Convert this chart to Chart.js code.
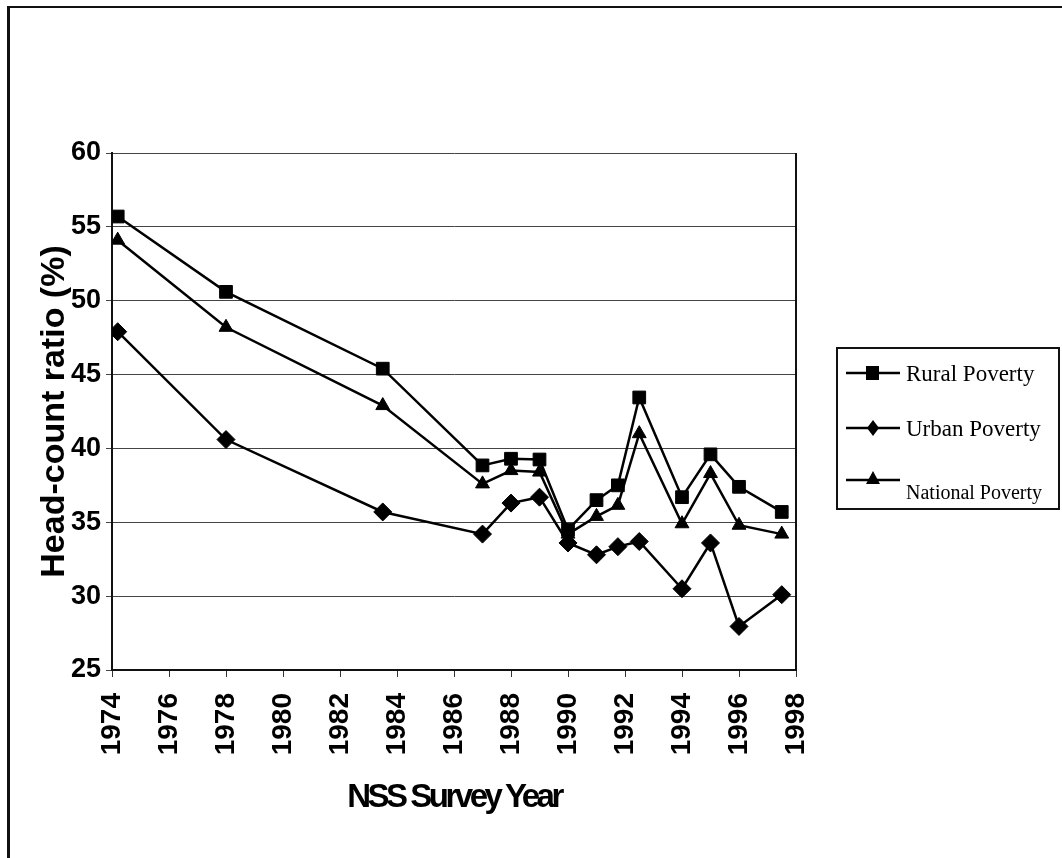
<!DOCTYPE html>
<html>
<head>
<meta charset="utf-8">
<script src="https://cdn.jsdelivr.net/npm/chart.js@4.4.1/dist/chart.umd.min.js"></script>
<style>
    body { margin: 0; background: #fff; }
    #wrap { position: relative; width: 1062px; height: 858px; overflow: hidden; }
    #frame { position: absolute; left: 7px; top: 6px; width: 1100px; height: 900px;
             border-left: 3px solid #111; border-top: 2px solid #111; }
    #legend { position: absolute; left: 836px; top: 347px; width: 220px; height: 159px;
              border: 2px solid #111; font-family: "Liberation Serif", "Times New Roman", serif; }
    #legend svg, #legend span { position: absolute; }
    #legend span { color: #000; white-space: nowrap; line-height: 1; }
</style>
</head>
<body>
<div id="wrap">
    <div id="frame"></div>
    <canvas id="chart" width="1062" height="858"></canvas>
    <div id="legend">
        <svg style="left: 8px; top: 12px;" width="54" height="24"><line x1="0" y1="12" x2="54" y2="12" stroke="#000" stroke-width="2.5"/><rect x="20" y="5" width="13" height="14" fill="#000"/></svg>
        <span style="left: 68px; top: 13px; font-size: 23px;">Rural Poverty</span>
        <svg style="left: 8px; top: 67px;" width="54" height="24"><line x1="0" y1="12" x2="54" y2="12" stroke="#000" stroke-width="2.5"/><polygon points="27,4 33,12 27,20 21,12" fill="#000"/></svg>
        <span style="left: 68px; top: 68px; font-size: 23px;">Urban Poverty</span>
        <svg style="left: 8px; top: 118px;" width="54" height="24"><line x1="0" y1="13" x2="54" y2="13" stroke="#000" stroke-width="2.5"/><polygon points="27,4 34,17 20,17" fill="#000"/></svg>
        <span style="left: 68px; top: 133px; font-size: 20px;">National Poverty</span>
    </div>
</div>
<script>
const years = [1974.2, 1978, 1983.5, 1987, 1988, 1989, 1990, 1991, 1991.75, 1992.5, 1994, 1995, 1996, 1997.5];
const rural = [55.7, 50.6, 45.4, 38.85, 39.3, 39.25, 34.5, 36.5, 37.5, 43.45, 36.7, 39.6, 37.4, 35.7];
const urban = [47.9, 40.6, 35.7, 34.2, 36.3, 36.7, 33.6, 32.8, 33.35, 33.7, 30.5, 33.6, 27.95, 30.1];
const national = [54.1, 48.2, 42.9, 37.6, 38.5, 38.4, 34.2, 35.4, 36.15, 41.0, 34.9, 38.3, 34.8, 34.2];
const seriesNames = ['Rural Poverty', 'Urban Poverty', 'National Poverty'];

function points(values){
    return values.map(function (v, i) { return { x: years[i], y: v }; });
}

const plotBorder = {
    id: 'plotBorder',
    afterDraw(chart){
        const a = chart.chartArea;
        const ctx = chart.ctx;
        ctx.save();
        ctx.strokeStyle = '#111';
        ctx.lineWidth = 2;
        ctx.beginPath();
        ctx.moveTo(a.right, a.top);
        ctx.lineTo(a.right, a.bottom);
        ctx.stroke();
        ctx.restore();
    }
};

// squeeze a scale's title (the original uses a condensed bold face)
function tightTitle(scale, spacing){
    if (scale._tight) return;
    scale._tight = true;
    const original = scale.drawTitle;
    scale.drawTitle = function(){
        const ctx = this.ctx;
        ctx.save();
        ctx.letterSpacing = spacing;
        original.apply(this, arguments);
        ctx.restore();
    };
}

const sans = '"Liberation Sans", Arial, sans-serif';

new Chart(document.getElementById('chart'), {
    type: 'line',
    data: {
        datasets: [
            { label: seriesNames[0], data: points(rural), pointStyle: 'rect', pointRadius: 9 },
            { label: seriesNames[1], data: points(urban), pointStyle: 'rectRot', pointRadius: 9 },
            { label: seriesNames[2], data: points(national), pointStyle: 'triangle', pointRadius: 8 }
        ].map(function (d) {
            return Object.assign(d, {
                borderColor: '#000', backgroundColor: '#000', borderWidth: 2.5,
                pointBackgroundColor: '#000', pointBorderColor: '#000', pointBorderWidth: 1,
                tension: 0
            });
        })
    },
    options: {
        responsive: false,
        animation: false,
        layout: { padding: { top: 153, right: 266, bottom: 0, left: 0 } },
        plugins: { legend: { display: false }, tooltip: { enabled: false } },
        scales: {
            x: {
                type: 'linear',
                min: 1974, max: 1998,
                afterFit(scale){ scale.height = 188; tightTitle(scale, '-3.5px'); },
                ticks: {
                    stepSize: 2, maxRotation: 90, minRotation: 90, padding: 16,
                    color: '#000', font: { family: sans, size: 28, weight: 'bold' },
                    callback: function (v) { return String(v); }
                },
                grid: { drawOnChartArea: false, drawTicks: true, tickLength: 7, color: '#333' },
                border: { color: '#111', width: 2 },
                title: {
                    display: true, text: 'NSS Survey Year', color: '#000',
                    font: { family: sans, size: 33, weight: 'bold' },
                    padding: { top: 0, bottom: 40 }
                }
            },
            y: {
                min: 25, max: 60,
                afterFit(scale){ scale.width = 112; },
                ticks: {
                    stepSize: 5, padding: 5, color: '#000',
                    font: { family: sans, size: 27, weight: 'bold' }
                },
                grid: { color: '#444', lineWidth: 1, tickLength: 6 },
                border: { color: '#111', width: 2 },
                title: {
                    display: true, text: 'Head-count ratio (%)', color: '#000',
                    font: { family: sans, size: 34, weight: 'bold' },
                    padding: { top: 34, bottom: 0 }
                }
            }
        }
    },
    plugins: [plotBorder]
});
</script>
</body>
</html>
